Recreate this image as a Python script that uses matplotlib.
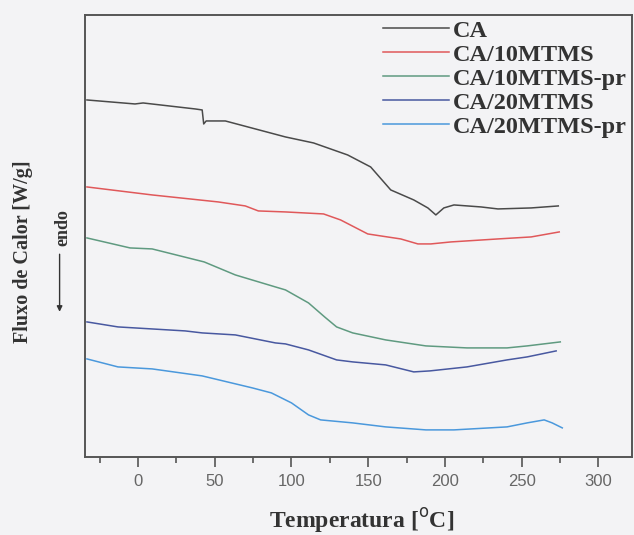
import matplotlib
matplotlib.use("Agg")
import matplotlib.pyplot as plt
from matplotlib.ticker import MultipleLocator

# DSC curves, temperature in degC, heat flow in arbitrary (offset) units
ca_T = [-33.3, -2.0, 3.3, 37.3, 41.8, 42.8, 44.4, 45.8, 56.9, 96.1, 114.4, 136.6,
        151.6, 164.7, 179.7, 188.9, 194.1, 199.3, 205.9, 223.5, 234.6, 256.2, 273.9]
ca_q = [3.55, 3.51, 3.52, 3.46, 3.45, 3.31, 3.34, 3.34, 3.34, 3.18, 3.12, 3.00,
        2.88, 2.65, 2.55, 2.47, 2.40, 2.47, 2.50, 2.48, 2.46, 2.47, 2.49]

ca10_T = [-33.3, 9.2, 52.3, 69.9, 78.4, 96.1, 120.9, 132.0, 149.7, 158.2, 171.2,
          182.4, 190.8, 203.9, 234.6, 256.2, 274.5]
ca10_q = [2.68, 2.60, 2.53, 2.49, 2.44, 2.43, 2.41, 2.35, 2.21, 2.19, 2.16,
          2.11, 2.11, 2.13, 2.16, 2.18, 2.23]

ca10pr_T = [-33.3, -5.2, 9.2, 43.1, 63.4, 89.5, 96.1, 111.1, 121.6, 129.4, 139.9,
            161.4, 187.6, 214.4, 240.5, 253.6, 275.2]
ca10pr_q = [2.17, 2.07, 2.06, 1.93, 1.80, 1.68, 1.65, 1.52, 1.38, 1.28, 1.22,
            1.15, 1.09, 1.07, 1.07, 1.09, 1.13]

ca20_T = [-33.3, -13.1, 30.7, 41.8, 63.4, 89.5, 96.1, 111.1, 129.4, 139.9, 161.4,
          179.7, 190.2, 214.4, 240.5, 253.6, 272.5]
ca20_q = [1.33, 1.28, 1.24, 1.22, 1.20, 1.12, 1.11, 1.05, 0.95, 0.93, 0.90,
          0.83, 0.84, 0.88, 0.95, 0.98, 1.04]

ca20pr_T = [-33.3, -13.1, 9.2, 41.8, 74.5, 86.9, 100.0, 111.1, 119.0, 139.9, 161.4,
            187.6, 205.9, 240.5, 253.6, 264.7, 269.9, 276.5]
ca20pr_q = [0.96, 0.88, 0.86, 0.79, 0.67, 0.62, 0.52, 0.40, 0.35, 0.32, 0.28,
            0.25, 0.25, 0.28, 0.32, 0.35, 0.32, 0.27]

labels = ["CA", "CA/10MTMS", "CA/10MTMS-pr", "CA/20MTMS", "CA/20MTMS-pr"]
colors = ["#4a4a4a", "#e0585a", "#5f9a80", "#4858a0", "#4a98dc"]

bg = "#f3f3f5"
fig = plt.figure(figsize=(6.34, 5.35), dpi=100, facecolor=bg)
ax = fig.add_axes([0.134, 0.146, 0.863, 0.826], facecolor=bg)

series = [(ca_T, ca_q), (ca10_T, ca10_q), (ca10pr_T, ca10pr_q),
          (ca20_T, ca20_q), (ca20pr_T, ca20pr_q)]
for (t, q), lab, c in zip(series, labels, colors):
    ax.plot(t, q, color=c, lw=1.1, label=lab)

ax.set_xlim(-34.6, 322)
ax.set_ylim(-0.02, 4.4)
ax.xaxis.set_major_locator(MultipleLocator(50))
ax.xaxis.set_minor_locator(MultipleLocator(25))
ax.set_yticks([])
ax.tick_params(axis="x", which="major", direction="out", length=7, width=1.2,
               color="#555555", labelsize=12, labelcolor="#666666", pad=5)
ax.tick_params(axis="x", which="minor", direction="out", length=4.5, width=1.2,
               color="#555555")
for lab in ax.get_xticklabels():
    lab.set_family("Liberation Sans")
for s in ax.spines.values():
    s.set_color("#555555")
    s.set_linewidth(1.4)

fig.text(0.571, 0.028, "Temperatura [$^{\\mathrm{o}}$C]", ha="center", va="center",
         family="Liberation Serif", fontweight="bold", fontsize=17, color="#333333")
fig.text(0.036, 0.53, "Fluxo de Calor [W/g]", rotation=90, ha="center", va="center",
         family="Liberation Serif", fontweight="bold", fontsize=14.5, color="#333333")
fig.text(0.099, 0.575, "endo", rotation=90, ha="center", va="center",
         family="Liberation Serif", fontweight="bold", fontsize=13, color="#333333")
ax.annotate("", xy=(0.094, 0.412), xytext=(0.094, 0.53), xycoords="figure fraction",
            arrowprops=dict(arrowstyle="-|>", color="#333333", lw=1.0,
                            mutation_scale=8))

leg = ax.legend(loc="upper right", frameon=False, handlelength=2.7,
                labelspacing=0.08, handletextpad=0.2, borderaxespad=0.0,
                borderpad=0.2,
                prop={"family": "Liberation Serif", "weight": "bold", "size": 17.5})
for t in leg.get_texts():
    t.set_color("#333333")

fig.savefig("out.png", dpi=100, facecolor=bg)
